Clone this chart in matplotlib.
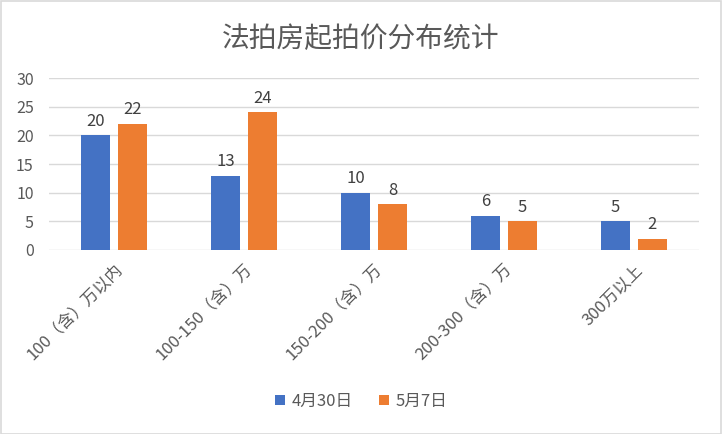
import numpy as np
import matplotlib
matplotlib.use('Agg')
import matplotlib.pyplot as plt
from matplotlib.patches import Rectangle

plt.rcParams['font.family'] = ['Noto Sans CJK SC', 'DejaVu Sans']

categories = ['100（含）万以内', '100-150（含）万', '150-200（含）万', '200-300（含）万', '300万以上']
apr30 = [20, 13, 10, 6, 5]
may7 = [22, 24, 8, 5, 2]
series_names = ['4月30日', '5月7日']

BLUE = '#4472C4'
ORANGE = '#ED7D31'
TEXT = '#595959'

fig = plt.figure(figsize=(7.22, 4.34), dpi=100)
fig.patches.append(Rectangle((0.001, 0.001), 0.997, 0.996, transform=fig.transFigure,
                             fill=False, edgecolor='#d9d9d9', linewidth=1.2))
ax = fig.add_axes([0.068, 0.424, 0.9, 0.396])

x = np.arange(len(categories))
w = 0.223
off = 0.142
b1 = ax.bar(x - off, apr30, w, color=BLUE, label=series_names[0], zorder=3)
b2 = ax.bar(x + off, may7, w, color=ORANGE, label=series_names[1], zorder=3)

for bars in (b1, b2):
    for r in bars:
        ax.annotate(f'{int(r.get_height())}', (r.get_x() + r.get_width() / 2, r.get_height()),
                    xytext=(0, 4), textcoords='offset points', ha='center', va='bottom',
                    fontsize=12, color='#404040')

ax.set_xlim(-0.5, len(categories) - 0.5)
ax.set_ylim(0, 30)
ax.set_yticks(range(0, 31, 5))
ax.yaxis.grid(True, color='#d9d9d9', linewidth=1, zorder=0)
for s in ax.spines.values():
    s.set_visible(False)
ax.tick_params(axis='y', length=0, labelsize=11.5, labelcolor=TEXT, pad=11)
ax.set_xticks(x)
ax.set_xticklabels(categories, rotation=45, ha='right', rotation_mode='anchor')
ax.tick_params(axis='x', length=0, labelsize=12, labelcolor=TEXT, pad=8)

fig.suptitle('法拍房起拍价分布统计', y=0.945, fontsize=20, color=TEXT)

fig.legend(loc='center', bbox_to_anchor=(0.5, 0.075), ncol=2, frameon=False,
           fontsize=12, handlelength=0.6, handleheight=0.6, handletextpad=0.4,
           columnspacing=1.6, labelcolor=TEXT)

fig.savefig('out.png', dpi=100)
